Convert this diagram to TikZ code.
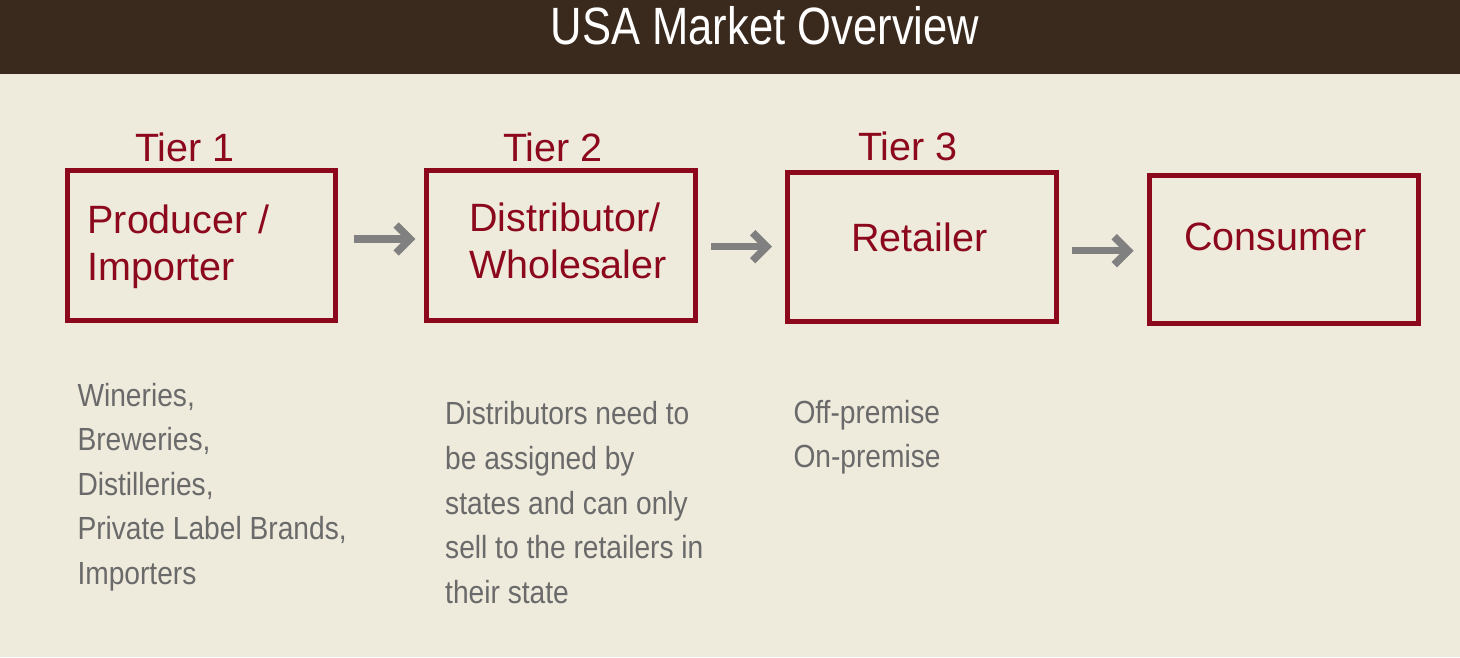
\documentclass[tikz,border=0pt]{standalone}
\usepackage{fontspec}
\setmainfont{Liberation Sans}
\newfontfamily\narrowfont[FakeStretch=0.88]{Liberation Sans}
\newfontfamily\titlefont[FakeStretch=0.83]{Liberation Sans}
\usetikzlibrary{arrows.meta}
\definecolor{barc}{RGB}{58,42,30}
\definecolor{bgc}{RGB}{238,234,220}
\definecolor{redc}{RGB}{140,8,28}
\definecolor{arrc}{RGB}{128,128,128}
\definecolor{descc}{RGB}{106,106,106}
\begin{document}
\begin{tikzpicture}[x=1pt,y=-1pt,
  tierbox/.style={draw=redc, line width=5pt, minimum width=268.5pt, minimum height=149.5pt, inner sep=0pt},
  boxtext/.style={text=redc, font=\fontsize{39.5}{46.7}\selectfont, inner sep=0pt, anchor=base west, align=left},
  tiertext/.style={text=redc, font=\fontsize{39.5}{46.7}\selectfont, inner sep=0pt, anchor=base west},
  desctext/.style={text=descc, font=\narrowfont\fontsize{32}{44.6}\selectfont, inner sep=0pt, anchor=base west, align=left},
  flow/.style={draw=arrc, line width=7.5pt, -{Straight Barb[length=14pt,width=28pt]}}]
\useasboundingbox (0,0) rectangle (1460,657);
\fill[bgc] (0,0) rectangle (1460,657);
\fill[barc] (0,0) rectangle (1460,74);
\node[text=white, font=\titlefont\fontsize{52.5}{60}\selectfont, inner sep=0pt, anchor=base] (title) at (765,44.3) {USA Market Overview};

\node[tierbox] (b1) at (201.6,245.5) {};
\node[tierbox] (b2) at (561,245.5) {};
\node[tierbox, minimum height=149pt] (b3) at (922,247) {};
\node[tierbox, minimum height=148pt] (b4) at (1283.8,249.5) {};

\node[tiertext] (tier1) at (135,161.7) {Tier 1};
\node[tiertext] (tier2) at (503,161) {Tier 2};
\node[tiertext] (tier3) at (858,160) {Tier 3};

\node[boxtext] (t1) at (87.3,280) {Producer /\\Importer};
\node[boxtext] (t2) at (469,278.5) {Distributor/\\Wholesaler};
\node[boxtext] (t3) at (851,251) {Retailer};
\node[boxtext] (t4) at (1184,250) {Consumer};

\draw[flow] ([xshift=15.2pt,yshift=6.5pt]b1.east) -- ([xshift=-8.8pt,yshift=6.5pt]b2.west);
\draw[flow] ([xshift=13.5pt,yshift=-1.2pt]b2.east) -- ([xshift=-13.25pt,yshift=0.3pt]b3.west);
\draw[flow] ([xshift=13.5pt,yshift=-3.7pt]b3.east) -- ([xshift=-13.5pt,yshift=-1.2pt]b4.west);

\node[desctext] (d1) at (77.3,584.5) {Wineries,\\Breweries,\\Distilleries,\\Private Label Brands,\\Importers};
\node[desctext] (d2) at (445,603.3) {Distributors need to\\be assigned by\\states and can only\\sell to the retailers in\\their state};
\node[desctext, font=\narrowfont\fontsize{32}{44}\selectfont] (d3) at (793.3,467.5) {Off-premise\\On-premise};
\end{tikzpicture}
\end{document}
